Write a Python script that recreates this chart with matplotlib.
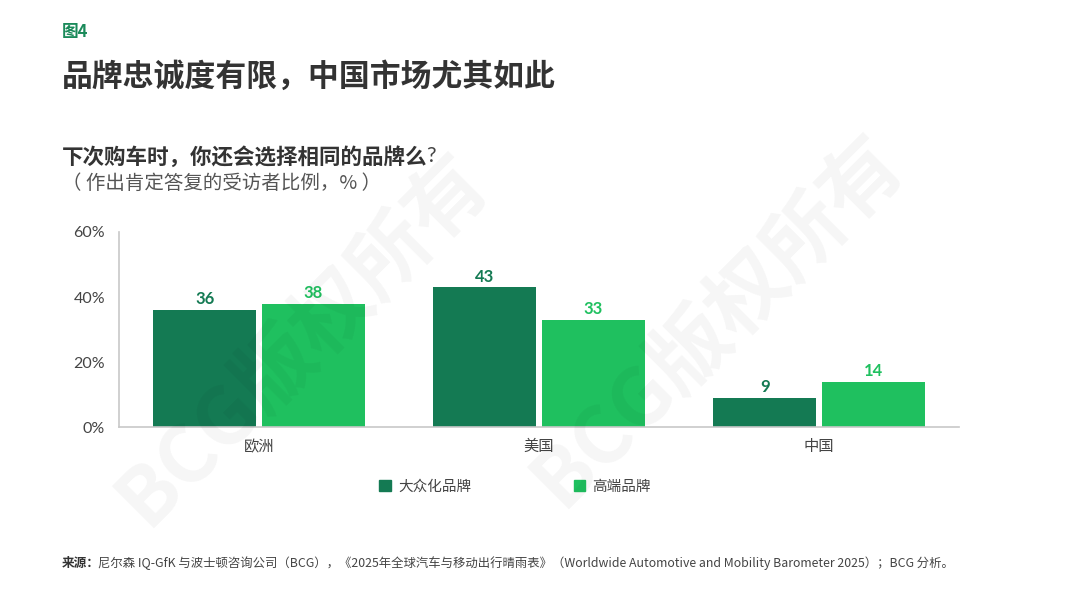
import matplotlib
matplotlib.use("Agg")
import matplotlib.pyplot as plt
import numpy as np
from matplotlib.patches import Rectangle

plt.rcParams['font.family'] = ['Lato', 'Noto Sans CJK SC', 'DejaVu Sans']

categories = ['欧洲', '美国', '中国']
series_names = ['大众化品牌', '高端品牌']
mass_values = [36, 43, 9]
premium_values = [38, 33, 14]
yticks = [0, 20, 40, 60]
ytick_labels = ['0%', '20%', '40%', '60%']

dark = '#147A53'
light = '#1FC05F'
CJK = ['Noto Sans CJK SC', 'DejaVu Sans']

fig = plt.figure(figsize=(10.8, 6.11), dpi=100)
ax = fig.add_axes([0.1102, 0.3011, 0.7778, 0.3192])

x = np.arange(len(categories))
w = 0.367
g = 0.01
b1 = ax.bar(x - w/2 - g, mass_values, w, color=dark, zorder=2)
b2 = ax.bar(x + w/2 + g, premium_values, w, color=light, zorder=2)
for bars, vals, c in [(b1, mass_values, dark), (b2, premium_values, light)]:
    for r, v in zip(bars, vals):
        ax.text(r.get_x() + r.get_width()/2, v + 0.8, str(v), ha='center', va='bottom',
                fontsize=12, fontweight='bold', color=c, family=['Lato', 'DejaVu Sans'])

ax.set_xlim(-0.5, 2.5)
ax.set_ylim(0, 60)
ax.set_yticks(yticks)
ax.set_yticklabels(ytick_labels, fontsize=11.5, color='#444444')
ax.set_xticks(x)
ax.set_xticklabels(categories, fontsize=11, color='#444444', family=CJK)
ax.tick_params(axis='both', length=0, pad=10)
ax.tick_params(axis='x', pad=8)
for s in ['top', 'right']:
    ax.spines[s].set_visible(False)
for s in ['left', 'bottom']:
    ax.spines[s].set_color('#c8c8c8')
    ax.spines[s].set_linewidth(1.2)

# legend
handles = [Rectangle((0, 0), 1, 1, color=dark), Rectangle((0, 0), 1, 1, color=light)]
fig.legend(handles, series_names, loc='center', bbox_to_anchor=(0.477, 0.203), ncol=2,
           frameon=False, prop={'family': CJK, 'size': 10.5}, handlelength=0.8, handleheight=0.8,
           columnspacing=7.0, handletextpad=0.5, labelcolor='#444444')

# titles
fig.text(0.057, 0.948, '图4', fontsize=12, fontweight='bold', color='#1a8a5a', family=CJK, va='center')
fig.text(0.057, 0.874, '品牌忠诚度有限，中国市场尤其如此', fontsize=22.2, fontweight='bold',
         color='#333333', family=CJK, va='center')
fig.text(0.057, 0.743, '下次购车时，你还会选择相同的品牌么', fontsize=15.5, fontweight='bold',
         color='#333333', family=CJK, va='center')
fig.text(0.3945, 0.745, '?', fontsize=15.5, color='#444444', family=['Lato', 'DejaVu Sans'], va='center')
fig.text(0.057, 0.700, '（ 作出肯定答复的受访者比例，% ）', fontsize=14, color='#555555',
         family=CJK, va='center')
fig.text(0.057, 0.078, '来源：', fontsize=9.1, fontweight='bold', color='#333333', family=CJK, va='center')
fig.text(0.0905, 0.078, '尼尔森 IQ-GfK 与波士顿咨询公司（BCG），《2025年全球汽车与移动出行晴雨表》'
         '（Worldwide Automotive and Mobility Barometer 2025）；BCG 分析。',
         fontsize=8.9, color='#444444', family=CJK, va='center')

# watermarks
for cx, cy in [(0.280, 0.445), (0.665, 0.475)]:
    fig.text(cx, cy, 'BCG版权所有', fontsize=58, fontweight='bold', color='black', alpha=0.04,
             rotation=45, ha='center', va='center', family=CJK, zorder=10)

fig.savefig('out.png', dpi=100, facecolor='white')
